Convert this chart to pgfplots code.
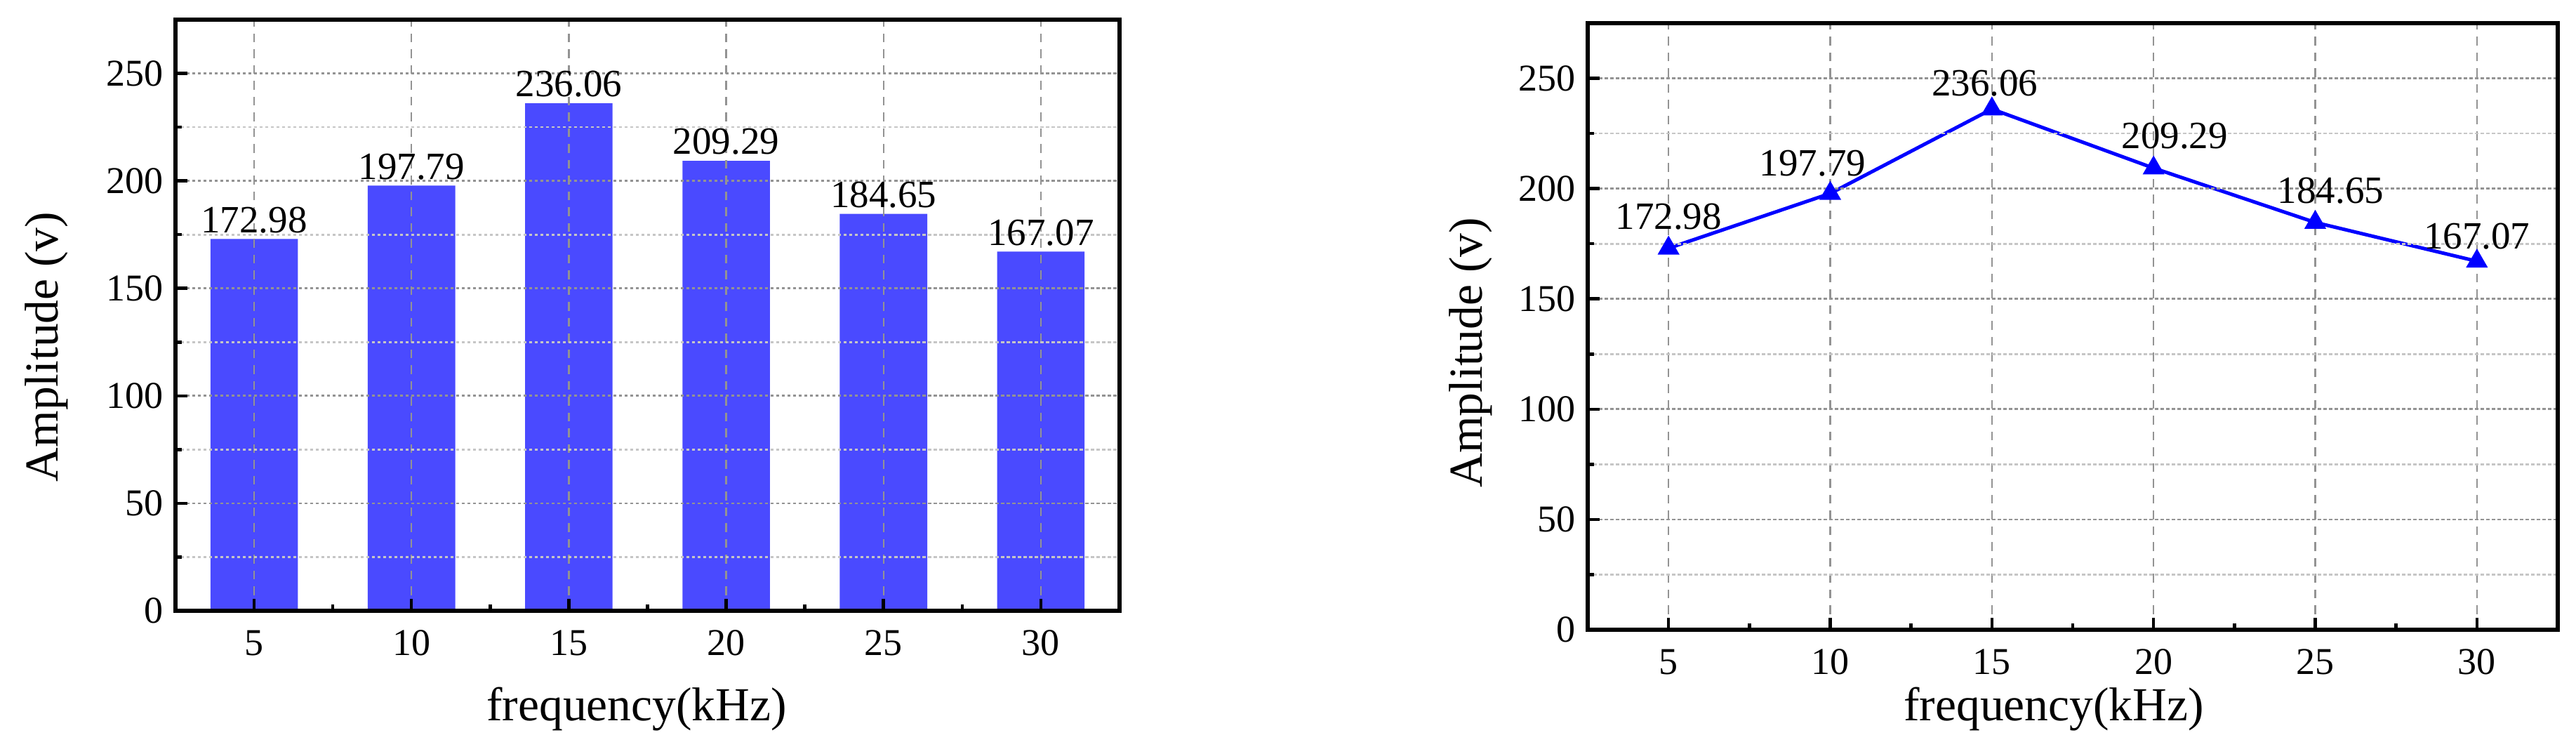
\documentclass[border=0pt]{standalone}
\usepackage{fontspec}
\setmainfont{Liberation Serif}
\usepackage{pgfplots}
\usepackage{pgfplotstable}
\pgfplotsset{compat=1.18}
\definecolor{barblue}{RGB}{74,74,255}

\pgfplotstableread{
x y lbl dx dy
5 172.98 172.98 0 4.8
10 197.79 197.79 -5 4.3
15 236.06 236.06 -2 3.1
20 209.29 209.29 6 4.9
25 184.65 184.65 4.4 4.9
30 167.07 167.07 0 2.9
}\ampdata

\pgfplotsset{
  panel/.style={
    scale only axis,
    xmin=2.5, xmax=32.5, ymin=0, ymax=275,
    xtick={5,10,15,20,25,30}, ytick={0,50,100,150,200,250},
    minor x tick num=1, minor y tick num=1,
    tick pos=left, tick align=inside,
    major tick length=3.4pt, minor tick length=1.8pt,
    tick style={black, line width=0.9pt},
    axis line style={black, line width=1.1pt},
    xmajorgrids, ymajorgrids, yminorgrids,
    major x grid style={gray!85, line width=0.45pt, dash pattern=on 2.5pt off 2pt},
    major y grid style={gray!85, line width=0.55pt, dash pattern=on 0.9pt off 0.7pt},
    minor y grid style={gray!45, line width=0.55pt, dash pattern=on 0.9pt off 0.7pt},
    axis on top,
    /pgf/number format/assume math mode=true,
    ticklabel style={font=\fontsize{10.8}{12}\selectfont},
    xticklabel style={yshift=-2pt},
    label style={font=\fontsize{13.5}{15}\selectfont},
    every node near coord/.append style={font=\fontsize{11}{12}\selectfont, text=black},
  }
}

\begin{document}
\begin{tikzpicture}
\path[use as bounding box] (0pt,0pt) rectangle (734pt,-214.6pt);

\begin{axis}[panel,
  at={(50pt,-174pt)}, anchor=south west,
  width=269pt, height=168.4pt,
  xlabel={frequency(kHz)}, ylabel={Amplitude (v)},
  xlabel style={at={(axis description cs:0.4885,-0.1663)}, anchor=center},
  ylabel style={at={(axis description cs:-0.1368,0.4466)}, anchor=center},
]
\addplot[ybar, bar width=2.78, fill=barblue, draw=none,
  nodes near coords, point meta=explicit symbolic,
  nodes near coords style={anchor=south, inner sep=0pt, yshift=1.5pt}]
  table[x=x, y=y, meta=lbl]{\ampdata};
\end{axis}

\begin{axis}[panel,
  at={(452.4pt,-179.4pt)}, anchor=south west,
  width=276.4pt, height=172.8pt,
  xlabel={frequency(kHz)}, ylabel={Amplitude (v)},
  xlabel style={at={(axis description cs:0.4805,-0.1308)}, anchor=center},
  ylabel style={at={(axis description cs:-0.1208,0.457)}, anchor=center},
]
\addplot[blue, line width=1pt, mark=triangle*, mark size=2.6pt, mark options={solid},
  nodes near coords, point meta=explicit symbolic,
  visualization depends on={\thisrow{dx}\as\ldx},
  visualization depends on={\thisrow{dy}\as\ldy},
  nodes near coords style={anchor=south, inner sep=0pt, xshift=\ldx, yshift=\ldy}]
  table[x=x, y=y, meta=lbl]{\ampdata};
\end{axis}
\end{tikzpicture}
\end{document}
